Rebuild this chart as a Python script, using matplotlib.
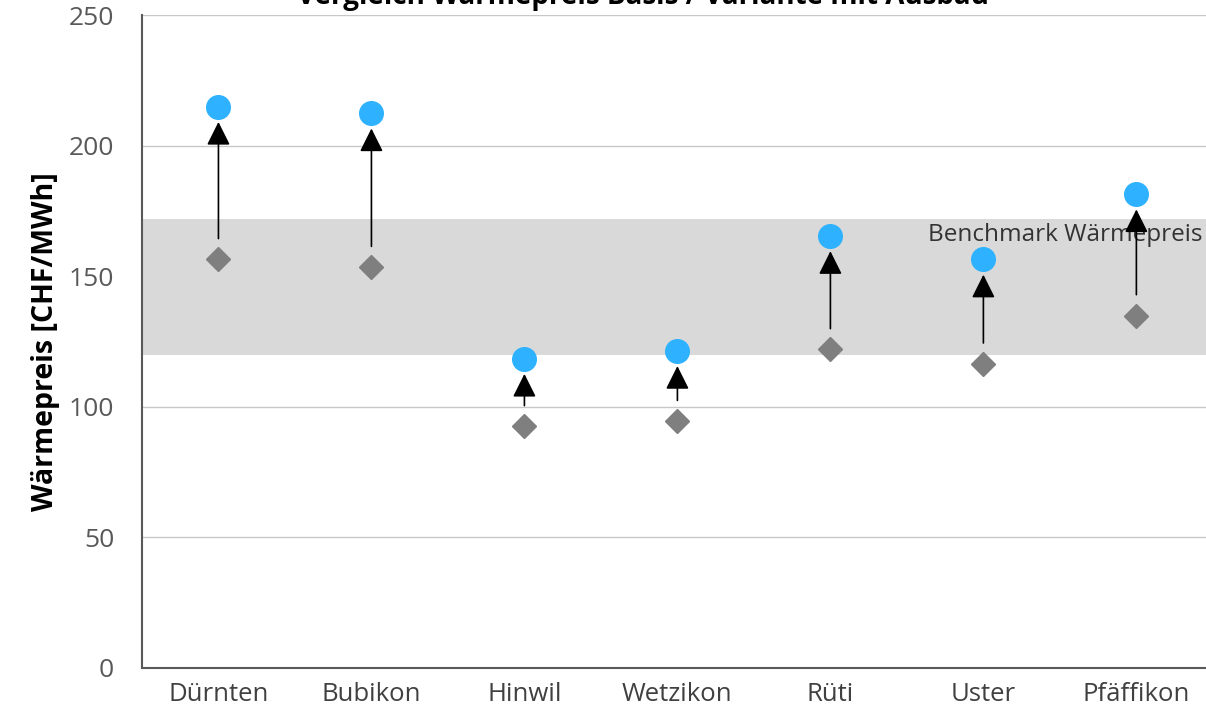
import matplotlib.pyplot as plt
import matplotlib.transforms as mtransforms
import numpy as np

plt.rcParams['font.family'] = ['Open Sans', 'DejaVu Sans']

# Wärmepreise je Gemeinde
gemeinden = ['Dürnten', 'Bubikon', 'Hinwil', 'Wetzikon', 'Rüti', 'Uster', 'Pfäffikon']
preis_basis = [156.5, 153.5, 92.5, 94.5, 122, 116.5, 135]
preis_neu = [215, 212.5, 118.5, 121.5, 165.5, 156.5, 181.5]
benchmark = [120, 172]

fig = plt.figure(figsize=(12.06, 7.11), dpi=100)
ax = fig.add_axes([0.1177, 0.0605, 0.888, 0.918])

x = np.arange(len(gemeinden))

ax.set_axisbelow(True)
ax.yaxis.grid(True, color='#c8c8c8', lw=1.0)
ax.axhspan(benchmark[0], benchmark[1], color='#d9d9d9', lw=0, zorder=1)

# Beschriftung des Benchmark-Bands am rechten Bildrand
trans = mtransforms.blended_transform_factory(fig.transFigure, ax.transData)
ax.text(0.9975, 166, 'Benchmark Wärmepreis', ha='right', va='center',
        fontsize=17.5, color='#333333', zorder=2, transform=trans)

for xi, a, b in zip(x, preis_basis, preis_neu):
    ax.annotate('', xy=(xi, b), xytext=(xi, a),
                arrowprops=dict(arrowstyle='-|>,head_length=0.9,head_width=0.45',
                                color='black', lw=1.2, shrinkA=15, shrinkB=11,
                                mutation_scale=16),
                zorder=3)

ax.plot(x, preis_basis, 'D', color='#7f7f7f', markersize=12, zorder=4)
ax.plot(x, preis_neu, 'o', color='#2eb2ff', markersize=17, zorder=5)

ax.set_xlim(-0.5, 6.5)
ax.set_ylim(0, 250)
ax.set_yticks(range(0, 251, 50))
ax.set_xticks(x)
ax.set_xticklabels(gemeinden)
ax.tick_params(axis='y', length=0, labelsize=19, colors='#595959', pad=20)
ax.tick_params(axis='x', length=0, labelsize=18.5, colors='#404040', pad=10)
ax.set_ylabel('Wärmepreis [CHF/MWh]', fontsize=20.5, fontweight='bold', labelpad=6)

for s in ['top', 'right']:
    ax.spines[s].set_visible(False)
for s in ['left', 'bottom']:
    ax.spines[s].set_color('#595959')
    ax.spines[s].set_linewidth(1.5)

fig.text(0.533, 1 - 4 / 711, 'Vergleich Wärmepreis Basis / Variante mit Ausbau',
         ha='center', va='baseline', fontsize=20, fontweight='bold')

fig.savefig('out.png', dpi=100)
